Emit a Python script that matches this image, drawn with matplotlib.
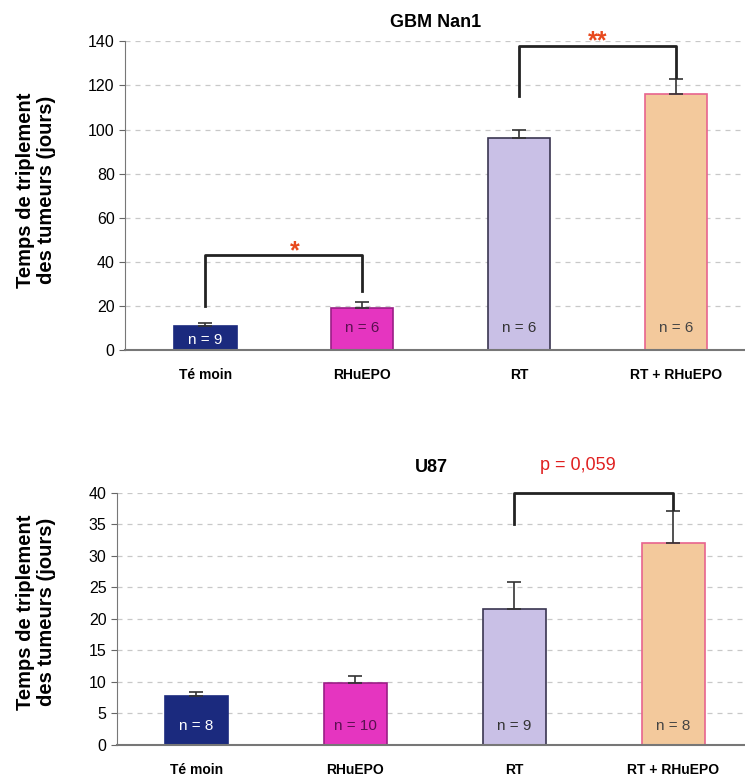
import matplotlib
matplotlib.use('Agg')
import matplotlib.pyplot as plt
import numpy as np

groups = ['Té moin', 'RHuEPO', 'RT', 'RT + RHuEPO']
colors = ['#1b2a7e', '#e535c0', '#c9c0e6', '#f3c99c']
edges = ['#1b2a7e', '#9a1f86', '#3a3550', '#e8648e']
n_col = ['white', '#5a1050', '#333333', '#444444']

nan1_mean = [11, 19, 96, 116]
nan1_err = [1.5, 3, 4, 7]
nan1_n = [9, 6, 6, 6]

u87_mean = [7.8, 9.9, 21.5, 32]
u87_err = [0.6, 1.1, 4.4, 5.2]
u87_n = [8, 10, 9, 8]

plt.rcParams['font.family'] = ['Liberation Sans', 'DejaVu Sans']
fig = plt.figure(figsize=(7.45, 7.8), dpi=100)
ax1 = fig.add_axes([0.168, 0.551, 0.832, 0.396])
ax2 = fig.add_axes([0.157, 0.045, 0.843, 0.323])


def panel(ax, mean, err, ns, ymax, step, title, xlim, ny, ny_low, tpad):
    x = np.arange(len(groups))
    ax.set_axisbelow(True)
    ax.yaxis.grid(True, color='#c8c8c8', linestyle=(0, (4, 4)), linewidth=0.9)
    ax.bar(x, mean, width=0.4, color=colors, edgecolor=edges, linewidth=1.2)
    ax.errorbar(x, mean, yerr=[np.zeros(len(x)), err], fmt='none', ecolor='#333333',
                elinewidth=1.2, capsize=5, capthick=1.2)
    for i, n in enumerate(ns):
        yy = ny_low if mean[i] < ny * 1.5 else ny
        ax.text(x[i], yy, f'n = {n}', ha='center', va='center', fontsize=11,
                color=n_col[i])
    ax.set_ylim(0, ymax)
    ax.set_yticks(np.arange(0, ymax + 1, step))
    ax.set_xlim(*xlim)
    ax.set_xticks(x)
    ax.set_xticklabels(groups, fontsize=10, fontweight='bold')
    ax.tick_params(axis='x', length=0, pad=13)
    ax.tick_params(axis='y', labelsize=11.5, length=4, color='#666666')
    for s in ['top', 'right']:
        ax.spines[s].set_visible(False)
    ax.spines['left'].set_color('#777777')
    ax.spines['bottom'].set_color('#777777')
    ax.spines['bottom'].set_linewidth(1.5)
    ax.set_title(title, fontsize=13, fontweight='bold', pad=tpad)


panel(ax1, nan1_mean, nan1_err, nan1_n, 140, 20, 'GBM Nan1', (-0.51, 3.44), 10, 4.5, 10)
panel(ax2, u87_mean, u87_err, u87_n, 40, 5, 'U87', (-0.5, 3.45), 3, 3, 15)

ylab = 'Temps de triplement\ndes tumeurs (jours)'
fig.text(36 / 745, 1 - 190 / 780, ylab, rotation=90, ha='center', va='center',
         fontsize=14.5, fontweight='bold', linespacing=1.15)
fig.text(36 / 745, 1 - 612 / 780, ylab, rotation=90, ha='center', va='center',
         fontsize=14.5, fontweight='bold', linespacing=1.15)

red = '#e8491d'
# significance brackets
ax1.plot([0, 0, 1, 1], [20, 43, 43, 27], color='#222222', lw=2, clip_on=False)
ax1.text(0.57, 45, '*', color=red, fontsize=18, ha='center', va='center', fontweight='bold')
ax1.plot([2, 2, 3, 3], [115, 138, 138, 124], color='#222222', lw=2, clip_on=False)
ax1.text(2.5, 140, '**', color=red, fontsize=18, ha='center', va='center', fontweight='bold',
         clip_on=False)

ax2.plot([2, 2, 3, 3], [35, 40, 40, 37.5], color='#222222', lw=2, clip_on=False)
ax2.text(2.4, 44.3, 'p = 0,059', color='#e02020', fontsize=13, ha='center', va='center',
         clip_on=False)

fig.savefig('out.png', dpi=100)
